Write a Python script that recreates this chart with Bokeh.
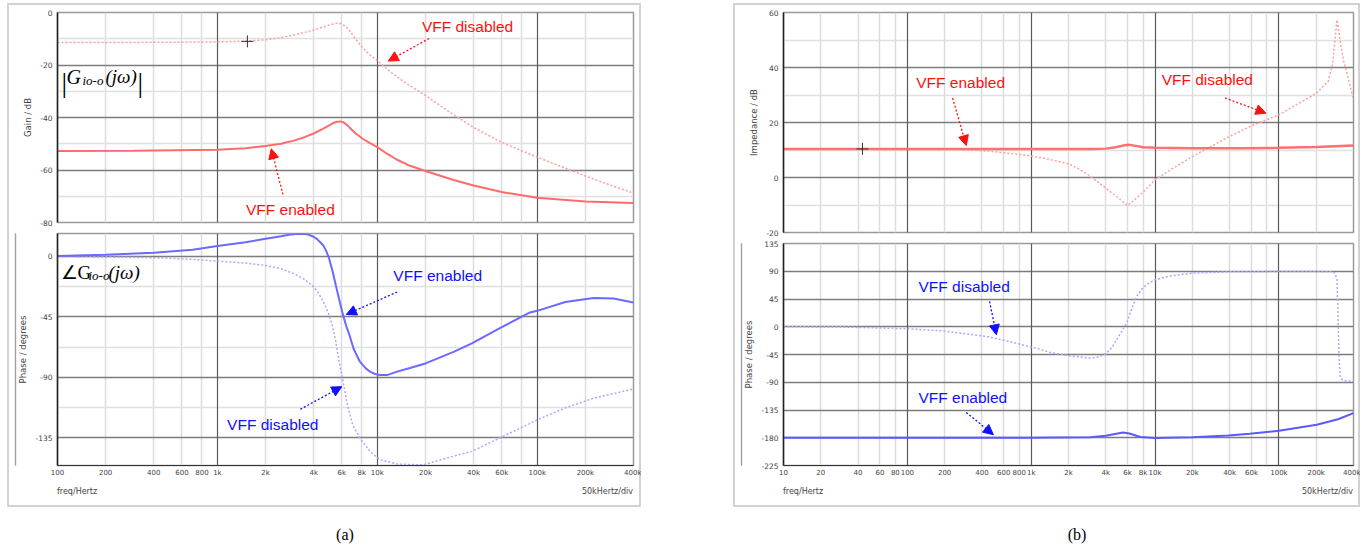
from bokeh.plotting import figure
from bokeh.models import (FixedTicker, Grid, Label, Arrow, NormalHead, LinearAxis, Div, Spacer)
from bokeh.layouts import column, row
from bokeh.embed import file_html
from bokeh.resources import INLINE

# ---------------- data: panel (a) ----------------
fa_gain_dis = [100, 300, 1000, 1500, 2000, 2500, 3000, 3500, 4000, 4500, 5000, 5300, 5600, 5900, 6200,
               6500, 6900, 7300, 8100, 9000, 10000, 12000, 15000, 20000, 30000, 40000, 60000, 100000,
               150000, 200000, 300000, 400000]
ga_gain_dis = [-11.4, -11.4, -11.2, -10.9, -10.4, -9.6, -8.6, -7.6, -6.7, -5.7, -4.8, -4.35, -4.1, -4.2,
               -4.9, -6.0, -8.0, -10.0, -13.5, -16.2, -18.3, -22.5, -26.8, -31.6, -39.0, -43.8, -49.5,
               -55.1, -59.3, -62.3, -66.2, -68.8]
fa_gain_en = [100, 300, 1000, 1500, 2000, 2500, 3000, 3500, 4000, 4500, 5000, 5300, 5600, 5900, 6200,
              6500, 6900, 7300, 8100, 9000, 10000, 11500, 13300, 16000, 20000, 30000, 40000, 60000, 100000,
              200000, 400000]
ga_gain_en = [-52.8, -52.7, -52.3, -51.7, -50.9, -50.0, -48.8, -47.5, -46.1, -44.5, -43.0, -42.1, -41.6,
              -41.5, -42.0, -43.0, -44.6, -46.0, -48.1, -49.8, -51.3, -53.8, -56.1, -58.4, -60.4, -63.8,
              -65.9, -68.4, -70.6, -72.0, -72.6]
fa_ph_en = [100, 200, 400, 700, 1000, 1500, 2000, 2500, 2800, 3100, 3400, 3700, 4000, 4200, 4400, 4600,
            4800, 5000, 5250, 5500, 5800, 6100, 6400, 6700, 7100, 7500, 7800, 8500, 9000, 9700, 10400,
            11500, 13300, 16000, 20000, 30000, 39000, 58000, 90000, 100000, 150000, 225000, 300000, 400000]
pa_ph_en = [0.3, 1.2, 2.7, 5.0, 7.7, 10.5, 13.1, 15.0, 16.0, 16.6, 16.8, 16.2, 14.6, 12.8, 10.5, 8.0,
            3.8, -1.7, -11.0, -21.5, -33.0, -43.5, -52.0, -58.6, -68.5, -74.5, -78.5, -83.5, -85.7, -87.5,
            -88.2, -88.3, -85.7, -83.0, -79.6, -71.0, -64.7, -53.6, -41.7, -40.5, -33.9, -30.9, -31.4, -34.3]
fa_ph_dis = [100, 200, 400, 700, 1000, 1500, 2000, 2500, 3000, 3500, 4000, 4300, 4600, 5000, 5250, 5500,
             5870, 6000, 6500, 7000, 7800, 9000, 10400, 13300, 18500, 20000, 27000, 39000, 58000,
             100000, 148000, 225000, 400000]
pa_ph_dis = [0.0, -0.5, -1.0, -2.2, -3.5, -5.0, -6.7, -9.2, -12.8, -17.0, -22.7, -27.5, -33.9, -43.7, -52.0,
             -63.5, -83.0, -88.2, -110.5, -125.0, -135.2, -145.1, -151.2, -154.4, -155.0, -154.6, -150.0,
             -145.0, -135.2, -121.6, -112.9, -105.5, -98.6]

# ---------------- data: panel (b) ----------------
fb_imp_en = [10, 100, 1000, 3000, 4000, 4800, 5500, 6100, 7000, 8000, 10000, 20000, 50000, 100000,
             200000, 400000]
gb_imp_en = [10.4, 10.4, 10.4, 10.4, 10.5, 11.0, 11.6, 11.9, 11.5, 11.0, 10.8, 10.6, 10.6, 10.8, 11.1, 11.6]
fb_imp_dis = [10, 100, 200, 300, 450, 600, 800, 1000, 1400, 2000, 2500, 3000, 3500, 4000, 4600, 5200, 5700,
              6000, 6400, 7100, 8500, 10000, 14000, 20000, 39000, 58000, 100000, 202000, 250000, 270000,
              282000, 294000, 305000, 317000, 335000, 360000, 400000]
gb_imp_dis = [10.4, 10.4, 10.3, 10.1, 9.6, 9.0, 8.4, 7.8, 6.6, 5.0, 2.8, 0.4, -1.8, -3.9, -6.0, -7.9, -9.4,
              -10.2, -9.2, -7.5, -4.2, -0.8, 3.4, 7.6, 14.7, 18.5, 22.8, 30.7, 35.0, 41.0, 49.0, 57.3, 53.0,
              47.6, 42.0, 36.7, 28.3]
fb_ph_dis = [10, 30, 100, 200, 437, 700, 1000, 1170, 1420, 2000, 3000, 3500, 4000, 4500, 4900, 5400, 5900,
             6500, 7100, 7800, 8500, 10000, 13000, 20000, 40000, 100000, 200000, 275000, 285000, 294000,
             298000, 302000, 306000, 312000, 325000, 345000, 400000]
pb_ph_dis = [0.0, -0.5, -3.2, -7.0, -15.7, -25.0, -33.0, -36.2, -41.6, -47.0, -50.8, -48.8, -43.8, -33.0,
             -21.0, -7.0, 6.0, 30.0, 49.0, 61.0, 68.0, 76.2, 82.0, 87.0, 89.0, 89.5, 89.5, 89.0, 86.0, 76.0,
             40.0, -5.0, -50.0, -80.6, -86.0, -87.6, -88.7]
fb_ph_en = [10, 1000, 3000, 4000, 5500, 6200, 7600, 10000, 20000, 39000, 58000, 100000, 202000, 300000,
            400000]
pb_ph_en = [-180.0, -180.0, -179.0, -176.8, -171.4, -173.0, -178.9, -180.5, -179.0, -176.3, -173.5,
            -168.6, -158.9, -150.0, -140.0]

# tick positions / labels
xa_ticks = [100, 200, 400, 600, 800, 1000, 2000, 4000, 6000, 8000, 10000, 20000, 40000, 60000,
            100000, 200000, 400000]
xb_ticks = [10, 20, 40, 60, 80] + xa_ticks
x_labels = {10: "10", 20: "20", 40: "40", 60: "60", 80: "80", 100: "100", 200: "200", 400: "400",
            600: "600", 800: "800", 1000: "1k", 2000: "2k", 4000: "4k", 6000: "6k", 8000: "8k",
            10000: "10k", 20000: "20k", 40000: "40k", 60000: "60k", 100000: "100k",
            200000: "200k", 400000: "400k"}
decades_a = [1000, 10000, 100000]
minor_a = [m * d for d in (100, 1000, 10000, 100000) for m in (2, 4, 6, 8)]
decades_b = [100, 1000, 10000, 100000]
minor_b = [m * d for d in (10, 100, 1000, 10000, 100000) for m in (2, 4, 6, 8)]

gain_ticks = [0, -20, -40, -60, -80]
gain_minor = [-10, -30, -50, -70]
pha_ticks = [0, -45, -90, -135]
pha_minor = [-22.5, -67.5, -112.5]
imp_ticks = [60, 40, 20, 0, -20]
imp_minor = [50, 30, 10, -10]
phb_ticks = [135, 90, 45, 0, -45, -90, -135, -180, -225]

cursor_a = ([1540], [-11.0])
cursor_b = ([43.4], [10.4])

RED_TXT = "#ff1010"
BLUE_TXT = "#1010ff"
TICK_FONT = "DejaVu Sans"


def base_fig(w, h, xr, yr, mbl, mbr, mbt, mbb, xaxis):
    p = figure(width=w, height=h, x_axis_type="log", x_range=xr, y_range=yr,
               x_axis_location=("below" if xaxis else None), y_axis_location="left",
               output_backend="svg", toolbar_location=None,
               min_border_left=mbl, min_border_right=mbr, min_border_top=mbt, min_border_bottom=mbb)
    p.border_fill_color = None
    p.background_fill_color = "white"
    p.outline_line_color = "#9a9a9a"
    p.outline_line_width = 1.5
    p.margin = 0
    for g in p.grid:
        g.visible = False
    return p


def add_grids(p, xmajor, xminor, ymajor, yminor):
    if xminor:
        p.add_layout(Grid(dimension=0, ticker=FixedTicker(ticks=xminor), grid_line_color="#dcdcdc",
                          grid_line_width=1.5))
    if yminor:
        p.add_layout(Grid(dimension=1, ticker=FixedTicker(ticks=yminor), grid_line_color="#e0e0e0",
                          grid_line_width=1.5))
    p.add_layout(Grid(dimension=1, ticker=FixedTicker(ticks=ymajor), grid_line_color="#7d7d7d",
                      grid_line_width=1.3))
    p.add_layout(Grid(dimension=0, ticker=FixedTicker(ticks=xmajor), grid_line_color="#5a5a5a",
                      grid_line_width=1.2))


def style_yaxis(p, ticks, label, standoff):
    ax = p.yaxis[0]
    ax.ticker = FixedTicker(ticks=ticks)
    ax.major_label_overrides = {t: str(t) for t in ticks}
    ax.major_tick_line_color = None
    ax.minor_tick_line_color = None
    ax.major_tick_out = 0
    ax.major_label_standoff = 5
    ax.major_label_text_font = TICK_FONT
    ax.major_label_text_font_size = "7.5px"
    ax.major_label_text_color = "#444444"
    ax.axis_line_color = "#222222"
    ax.axis_line_width = 1.5
    ax.axis_label = label
    ax.axis_label_text_font = TICK_FONT
    ax.axis_label_text_font_size = "8.5px"
    ax.axis_label_text_font_style = "normal"
    ax.axis_label_text_color = "#444444"
    ax.axis_label_standoff = standoff


def style_xaxis(p, ticks):
    ax = p.xaxis[0]
    ax.ticker = FixedTicker(ticks=ticks)
    ax.major_label_overrides = {t: x_labels[t] for t in ticks}
    ax.major_tick_line_color = None
    ax.minor_tick_line_color = None
    ax.major_tick_out = 0
    ax.major_label_standoff = 3
    ax.major_label_text_font = TICK_FONT
    ax.major_label_text_font_size = "7px"
    ax.major_label_text_color = "#444444"
    ax.axis_line_color = "#333333"
    ax.axis_line_width = 1.2


def double_rule(p):
    for _ in range(2):
        ax = LinearAxis(ticker=FixedTicker(ticks=[]), major_label_text_font_size="0px",
                        major_tick_line_color=None, minor_tick_line_color=None,
                        major_tick_out=3, major_tick_in=0, major_label_standoff=0,
                        axis_line_color="#a0a0a0", axis_line_width=1.2)
        p.add_layout(ax, "left")


def txt(p, x, y, text, color, size="15.5px", align="left"):
    p.add_layout(Label(x=x, y=y, text=text, text_color=color, text_font="Liberation Sans",
                       text_font_size=size, text_baseline="middle", text_align=align))


def arrow(p, x0, y0, x1, y1, color):
    p.add_layout(Arrow(x_start=x0, y_start=y0, x_end=x1, y_end=y1, line_color=color,
                       line_width=1.3, line_dash="2 2",
                       end=NormalHead(size=10, fill_color=color, line_color=color, line_width=1)))


def math_piece(p, x, y, dx, dy, text, size, style):
    p.add_layout(Label(x=x, y=y, x_offset=dx, y_offset=dy, text=text, text_font="Liberation Serif",
                       text_font_size=size, text_font_style=style, text_color="#000000",
                       text_baseline="alphabetic", text_align="left"))


def footer(w_left, w_frame, w_right):
    st = ('font-family:"DejaVu Sans";font-size:8px;line-height:10px;color:#444;padding-top:7px;'
          f'width:{w_frame}px;display:flex;justify-content:space-between;')
    inner = Div(text=f"<div style='{st}'><span>freq/Hertz</span><span>50kHertz/div</span></div>",
                width=w_frame, height=27, margin=0)
    return row(Spacer(width=w_left, height=27, margin=0), inner,
               Spacer(width=w_right, height=27, margin=0), margin=0)


# ---------------- panel (a) ----------------
xr_a = (100, 400000)
gA = base_fig(634, 228, xr_a, (-80, 0), 50, 8, 9, 9, False)
add_grids(gA, decades_a, minor_a, gain_ticks, gain_minor)
style_yaxis(gA, gain_ticks, "Gain / dB", 4)
gA.line(fa_gain_dis, ga_gain_dis, line_color="#ff9c9c", line_width=1.5, line_dash="2 2")
gA.line(fa_gain_en, ga_gain_en, line_color="#ff6b6b", line_width=2)
gA.scatter(cursor_a[0], cursor_a[1], marker="cross", size=12, line_color="#333333", line_width=1)
txt(gA, 19000, -5.5, "VFF disabled", RED_TXT)
arrow(gA, 21100, -9.9, 11700, -18.5, RED_TXT)
txt(gA, 1510, -75.0, "VFF enabled", RED_TXT)
arrow(gA, 2570, -69.3, 2170, -51.9, RED_TXT)
math_piece(gA, 100, -20, 4, -17, "|", "28px", "normal")
math_piece(gA, 100, -20, 9, -11.5, "G", "20px", "italic")
math_piece(gA, 100, -20, 25, -15.5, "io-o", "13px", "italic")
math_piece(gA, 100, -20, 48, -11.5, "(jω)", "19px", "italic")
math_piece(gA, 100, -20, 80, -17, "|", "28px", "normal")

pA = base_fig(634, 249, xr_a, (-155.5, 17), 50, 8, 2, 15, True)
add_grids(pA, decades_a, minor_a, pha_ticks, pha_minor)
style_yaxis(pA, pha_ticks, "Phase / degrees", 4)
style_xaxis(pA, xa_ticks)
double_rule(pA)
pA.line(fa_ph_dis, pa_ph_dis, line_color="#a8a8ff", line_width=1.5, line_dash="2 2")
pA.line(fa_ph_en, pa_ph_en, line_color="#6a6aff", line_width=2)
txt(pA, 12600, -14.6, "VFF enabled", BLUE_TXT)
arrow(pA, 13300, -26.5, 6400, -43.2, BLUE_TXT)
txt(pA, 1150, -125.3, "VFF disabled", BLUE_TXT)
arrow(pA, 3300, -113.7, 6000, -96.9, BLUE_TXT)
math_piece(pA, 100, 0, 3, -16, "∠G", "19px", "normal")
math_piece(pA, 100, 0, 31, -19, "io-o", "13px", "italic")
math_piece(pA, 100, 0, 51, -16, "(jω)", "19px", "italic")

colA = column(gA, pA, footer(50, 576, 8), margin=0,
              styles={"outline": "2px solid #d2d2d2", "outline-offset": "-2px"})

# ---------------- panel (b) ----------------
xr_b = (10, 400000)
gB = base_fig(627, 236, xr_b, (-20, 60), 50, 7, 9, 7, False)
add_grids(gB, decades_b, minor_b, imp_ticks, imp_minor)
style_yaxis(gB, imp_ticks, "Impedance / dB", 4)
gB.line(fb_imp_dis, gb_imp_dis, line_color="#ffa0a0", line_width=1.5, line_dash="2 2")
gB.line(fb_imp_en, gb_imp_en, line_color="#ff7070", line_width=2.5)
gB.scatter(cursor_b[0], cursor_b[1], marker="cross", size=12, line_color="#333333", line_width=1)
txt(gB, 118, 34.7, "VFF enabled", RED_TXT)
arrow(gB, 232, 28.9, 299, 11.6, RED_TXT)
txt(gB, 11300, 35.5, "VFF disabled", RED_TXT)
arrow(gB, 36700, 28.9, 78500, 23.4, RED_TXT)

pB = base_fig(627, 241, xr_b, (-225, 135), 50, 7, 4, 15, True)
add_grids(pB, decades_b, minor_b, phb_ticks, [])
style_yaxis(pB, phb_ticks, "Phase / degrees", 4)
style_xaxis(pB, xb_ticks)
double_rule(pB)
pB.line(fb_ph_dis, pb_ph_dis, line_color="#a8a8ff", line_width=1.5, line_dash="2 2")
pB.line(fb_ph_en, pb_ph_en, line_color="#5a5aff", line_width=2)
txt(pB, 123, 65.4, "VFF disabled", BLUE_TXT)
arrow(pB, 461, 41, 523, -13, BLUE_TXT)
txt(pB, 123, -114, "VFF enabled", BLUE_TXT)
arrow(pB, 299, -139, 495, -175, BLUE_TXT)

colB = column(gB, pB, footer(50, 570, 7), margin=0,
              styles={"outline": "2px solid #d2d2d2", "outline-offset": "-2px"})

cap_style = ('padding-top:19px;width:200px;text-align:center;font-family:"Liberation Serif";'
             'font-size:16px;line-height:18px;color:#000')
capA = Div(text=f"<div style='{cap_style}'>(a)</div>", width=200, height=43, margin=0)
capB = Div(text=f"<div style='{cap_style}'>(b)</div>", width=200, height=43, margin=0)

page = column(Spacer(height=3, margin=0),
              row(Spacer(width=7, margin=0), colA, Spacer(width=92, margin=0), colB, margin=0),
              row(Spacer(width=245, margin=0), capA, Spacer(width=532, margin=0), capB, margin=0),
              margin=0)

open("out.html", "w").write(file_html(page, INLINE))
